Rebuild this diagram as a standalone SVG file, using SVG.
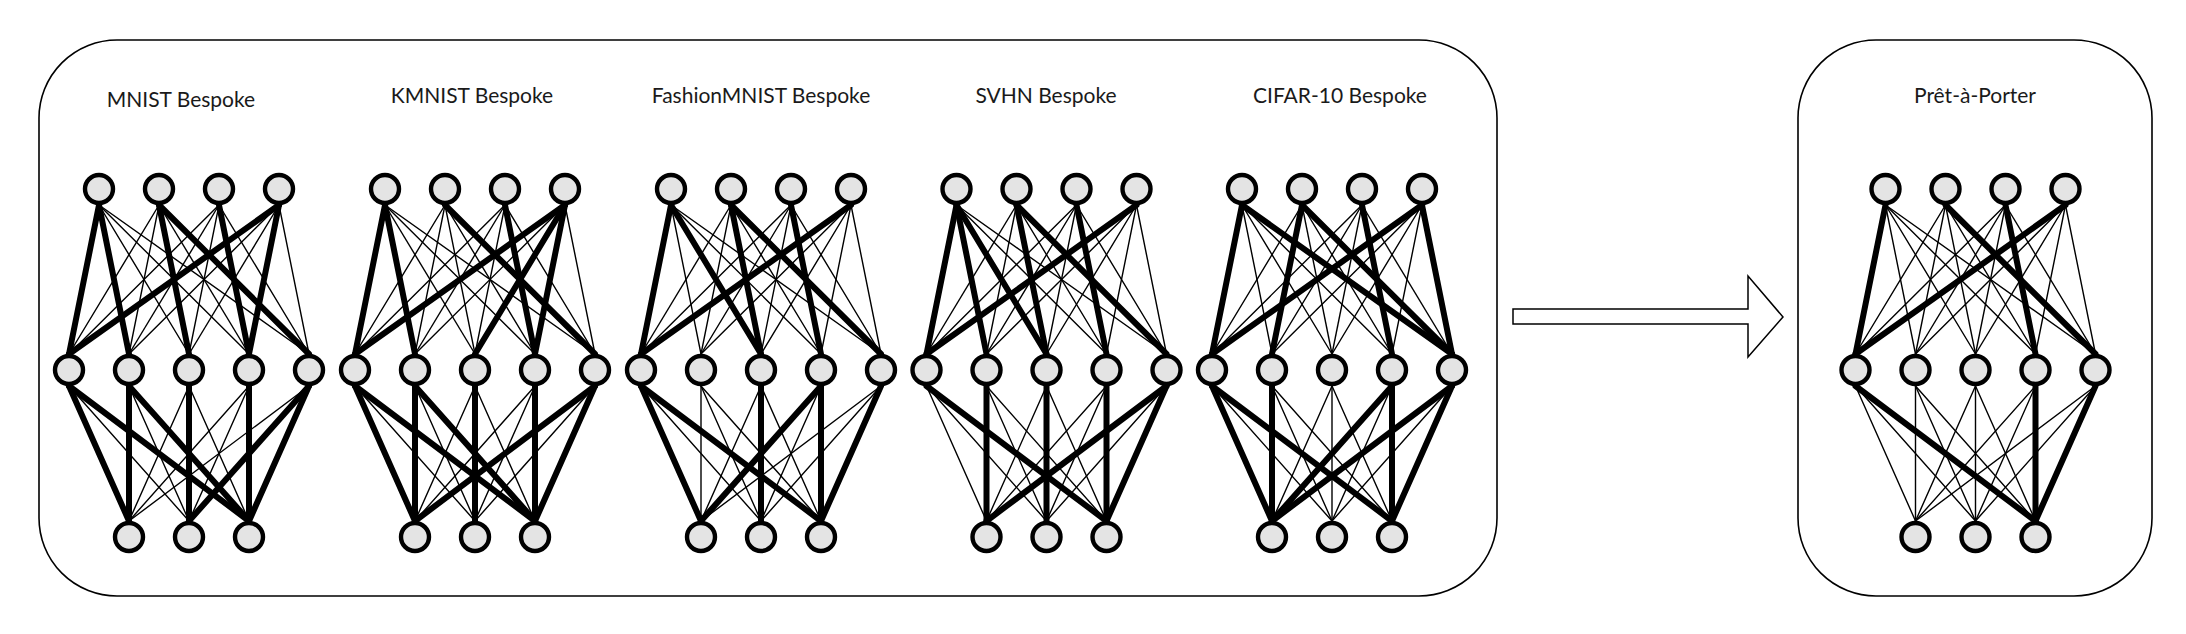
<svg xmlns="http://www.w3.org/2000/svg" xmlns:xlink="http://www.w3.org/1999/xlink" width="2186" height="634" viewBox="0 0 2186 634">
<style>
.box{fill:#ffffff;stroke:#000000;stroke-width:1.6}
.arrow{fill:#ffffff;stroke:#000000;stroke-width:1.5;stroke-linejoin:miter}
.title{font-family:Lato,"Open Sans","Liberation Sans",sans-serif;font-size:21px;fill:#1a1a1a;text-anchor:middle}
.thin{stroke:#000000;stroke-width:1.4;stroke-linecap:round}
.thick{stroke:#000000;stroke-width:6;stroke-linecap:round}
.n{fill:#e4e4e4;stroke:#000000;stroke-width:4.4}
</style>
<defs>
<g id="mesh" class="thin">
<line x1="-90" y1="205" x2="-120" y2="354"/><line x1="-90" y1="205" x2="-60" y2="354"/><line x1="-90" y1="205" x2="0" y2="354"/><line x1="-90" y1="205" x2="60" y2="354"/><line x1="-90" y1="205" x2="120" y2="354"/>
<line x1="-30" y1="205" x2="-120" y2="354"/><line x1="-30" y1="205" x2="-60" y2="354"/><line x1="-30" y1="205" x2="0" y2="354"/><line x1="-30" y1="205" x2="60" y2="354"/><line x1="-30" y1="205" x2="120" y2="354"/>
<line x1="30" y1="205" x2="-120" y2="354"/><line x1="30" y1="205" x2="-60" y2="354"/><line x1="30" y1="205" x2="0" y2="354"/><line x1="30" y1="205" x2="60" y2="354"/><line x1="30" y1="205" x2="120" y2="354"/>
<line x1="90" y1="205" x2="-120" y2="354"/><line x1="90" y1="205" x2="-60" y2="354"/><line x1="90" y1="205" x2="0" y2="354"/><line x1="90" y1="205" x2="60" y2="354"/><line x1="90" y1="205" x2="120" y2="354"/>
<line x1="-120" y1="386" x2="-60" y2="521"/><line x1="-120" y1="386" x2="0" y2="521"/><line x1="-120" y1="386" x2="60" y2="521"/>
<line x1="-60" y1="386" x2="-60" y2="521"/><line x1="-60" y1="386" x2="0" y2="521"/><line x1="-60" y1="386" x2="60" y2="521"/>
<line x1="0" y1="386" x2="-60" y2="521"/><line x1="0" y1="386" x2="0" y2="521"/><line x1="0" y1="386" x2="60" y2="521"/>
<line x1="60" y1="386" x2="-60" y2="521"/><line x1="60" y1="386" x2="0" y2="521"/><line x1="60" y1="386" x2="60" y2="521"/>
<line x1="120" y1="386" x2="-60" y2="521"/><line x1="120" y1="386" x2="0" y2="521"/><line x1="120" y1="386" x2="60" y2="521"/>
</g>
<g id="nodes" class="n">
<circle cx="-90" cy="189" r="14"/><circle cx="-30" cy="189" r="14"/><circle cx="30" cy="189" r="14"/><circle cx="90" cy="189" r="14"/>
<circle cx="-120" cy="370" r="14"/><circle cx="-60" cy="370" r="14"/><circle cx="0" cy="370" r="14"/><circle cx="60" cy="370" r="14"/><circle cx="120" cy="370" r="14"/>
<circle cx="-60" cy="537" r="14"/><circle cx="0" cy="537" r="14"/><circle cx="60" cy="537" r="14"/>
</g>
</defs>

<g id="frames">
<rect id="bespoke-frame" class="box" x="39" y="40" width="1458" height="556" rx="78" ry="78"/>
<rect id="pret-frame" class="box" x="1798" y="40" width="354" height="556" rx="78" ry="78"/>
</g>

<g id="titles">
<text class="title" x="181" y="107">MNIST Bespoke</text>
<text class="title" x="472" y="103">KMNIST Bespoke</text>
<text class="title" x="761" y="103">FashionMNIST Bespoke</text>
<text class="title" x="1046" y="103">SVHN Bespoke</text>
<text class="title" x="1340" y="103">CIFAR-10 Bespoke</text>
<text class="title" x="1975" y="103">Prêt-à-Porter</text>
</g>

<g id="connectors">
<g id="edges-mnist" transform="translate(189,0)">
<use xlink:href="#mesh" href="#mesh"/>
<g class="thick">
<line x1="-90" y1="205" x2="-120" y2="354"/><line x1="-90" y1="205" x2="-60" y2="354"/><line x1="-30" y1="205" x2="0" y2="354"/><line x1="-30" y1="205" x2="120" y2="354"/><line x1="30" y1="205" x2="60" y2="354"/><line x1="90" y1="205" x2="-120" y2="354"/><line x1="90" y1="205" x2="60" y2="354"/>
<line x1="-120" y1="386" x2="-60" y2="521"/><line x1="-120" y1="386" x2="60" y2="521"/><line x1="-60" y1="386" x2="-60" y2="521"/><line x1="-60" y1="386" x2="60" y2="521"/><line x1="0" y1="386" x2="0" y2="521"/><line x1="60" y1="386" x2="60" y2="521"/><line x1="120" y1="386" x2="0" y2="521"/><line x1="120" y1="386" x2="60" y2="521"/>
</g>
</g>
<g id="edges-kmnist" transform="translate(475,0)">
<use xlink:href="#mesh" href="#mesh"/>
<g class="thick">
<line x1="-90" y1="205" x2="-120" y2="354"/><line x1="-90" y1="205" x2="-60" y2="354"/><line x1="-30" y1="205" x2="120" y2="354"/><line x1="30" y1="205" x2="60" y2="354"/><line x1="90" y1="205" x2="-120" y2="354"/><line x1="90" y1="205" x2="0" y2="354"/><line x1="90" y1="205" x2="60" y2="354"/>
<line x1="-120" y1="386" x2="-60" y2="521"/><line x1="-120" y1="386" x2="60" y2="521"/><line x1="-60" y1="386" x2="-60" y2="521"/><line x1="-60" y1="386" x2="60" y2="521"/><line x1="0" y1="386" x2="0" y2="521"/><line x1="60" y1="386" x2="60" y2="521"/><line x1="120" y1="386" x2="-60" y2="521"/><line x1="120" y1="386" x2="60" y2="521"/>
</g>
</g>
<g id="edges-fashionmnist" transform="translate(761,0)">
<use xlink:href="#mesh" href="#mesh"/>
<g class="thick">
<line x1="-90" y1="205" x2="-120" y2="354"/><line x1="-90" y1="205" x2="0" y2="354"/><line x1="-30" y1="205" x2="0" y2="354"/><line x1="-30" y1="205" x2="120" y2="354"/><line x1="30" y1="205" x2="60" y2="354"/><line x1="90" y1="205" x2="-120" y2="354"/>
<line x1="-120" y1="386" x2="-60" y2="521"/><line x1="-120" y1="386" x2="60" y2="521"/><line x1="0" y1="386" x2="0" y2="521"/><line x1="60" y1="386" x2="-60" y2="521"/><line x1="60" y1="386" x2="60" y2="521"/><line x1="120" y1="386" x2="60" y2="521"/>
</g>
</g>
<g id="edges-svhn" transform="translate(1046.5,0)">
<use xlink:href="#mesh" href="#mesh"/>
<g class="thick">
<line x1="-90" y1="205" x2="-120" y2="354"/><line x1="-90" y1="205" x2="-60" y2="354"/><line x1="-90" y1="205" x2="0" y2="354"/><line x1="-30" y1="205" x2="0" y2="354"/><line x1="-30" y1="205" x2="120" y2="354"/><line x1="30" y1="205" x2="60" y2="354"/><line x1="90" y1="205" x2="-120" y2="354"/>
<line x1="-120" y1="386" x2="60" y2="521"/><line x1="-60" y1="386" x2="-60" y2="521"/><line x1="0" y1="386" x2="0" y2="521"/><line x1="60" y1="386" x2="60" y2="521"/><line x1="120" y1="386" x2="-60" y2="521"/><line x1="120" y1="386" x2="60" y2="521"/>
</g>
</g>
<g id="edges-cifar10" transform="translate(1332,0)">
<use xlink:href="#mesh" href="#mesh"/>
<g class="thick">
<line x1="-90" y1="205" x2="-120" y2="354"/><line x1="-90" y1="205" x2="120" y2="354"/><line x1="-30" y1="205" x2="-60" y2="354"/><line x1="-30" y1="205" x2="120" y2="354"/><line x1="30" y1="205" x2="60" y2="354"/><line x1="90" y1="205" x2="-120" y2="354"/><line x1="90" y1="205" x2="120" y2="354"/>
<line x1="-120" y1="386" x2="-60" y2="521"/><line x1="-120" y1="386" x2="60" y2="521"/><line x1="-60" y1="386" x2="-60" y2="521"/><line x1="60" y1="386" x2="-60" y2="521"/><line x1="60" y1="386" x2="60" y2="521"/><line x1="120" y1="386" x2="-60" y2="521"/><line x1="120" y1="386" x2="60" y2="521"/>
</g>
</g>
<g id="edges-pret" transform="translate(1975.5,0)">
<use xlink:href="#mesh" href="#mesh"/>
<g class="thick">
<line x1="-90" y1="205" x2="-120" y2="354"/><line x1="-30" y1="205" x2="120" y2="354"/><line x1="30" y1="205" x2="60" y2="354"/><line x1="90" y1="205" x2="-120" y2="354"/>
<line x1="-120" y1="386" x2="60" y2="521"/><line x1="60" y1="386" x2="60" y2="521"/><line x1="120" y1="386" x2="60" y2="521"/>
</g>
</g>
<polygon id="transfer-arrow" class="arrow" points="1513,309 1748,309 1748,276 1783,317 1748,357 1748,324 1513,324"/>
</g>

<g id="net-mnist" transform="translate(189,0)"><use xlink:href="#nodes" href="#nodes"/></g>
<g id="net-kmnist" transform="translate(475,0)"><use xlink:href="#nodes" href="#nodes"/></g>
<g id="net-fashionmnist" transform="translate(761,0)"><use xlink:href="#nodes" href="#nodes"/></g>
<g id="net-svhn" transform="translate(1046.5,0)"><use xlink:href="#nodes" href="#nodes"/></g>
<g id="net-cifar10" transform="translate(1332,0)"><use xlink:href="#nodes" href="#nodes"/></g>
<g id="net-pret" transform="translate(1975.5,0)"><use xlink:href="#nodes" href="#nodes"/></g>
</svg>
